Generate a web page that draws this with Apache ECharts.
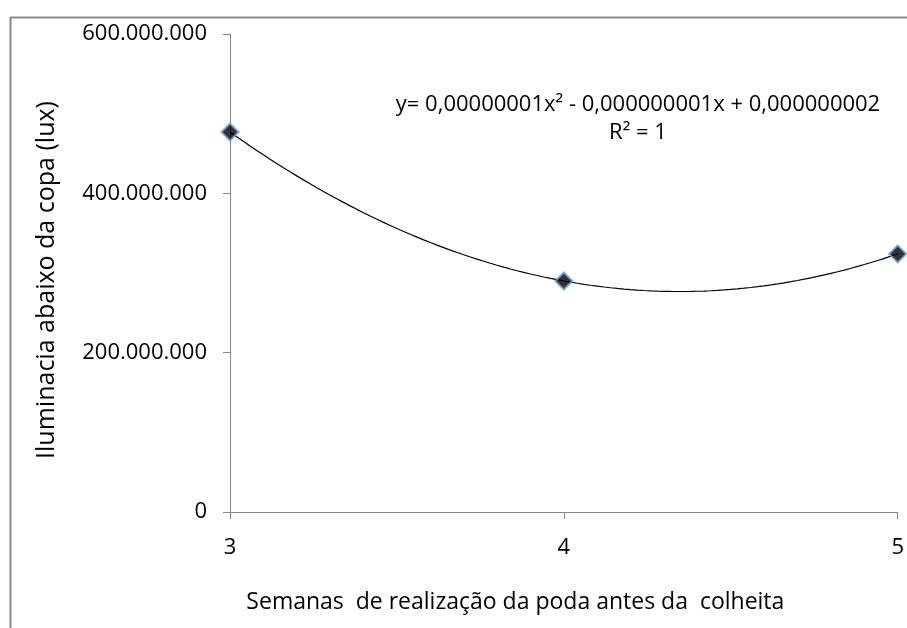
<!DOCTYPE html>
<html>
<head>
<meta charset="utf-8">
<script src="https://cdn.jsdelivr.net/npm/echarts@6/dist/echarts.min.js"></script>
<style>
  html, body { margin: 0; padding: 0; background: #fff; }
  #chart { width: 907px; height: 628px; }
</style>
</head>
<body>
<div id="chart"></div>
<script>
// Weeks of pruning before harvest vs. light under the canopy (lux)
const semanas = [3, 4, 5];
const iluminacao = [477000000, 290000000, 324000000];
const yTicks = [0, 200000000, 400000000, 600000000];
const equacao = 'y= 0,00000001x² - 0,000000001x + 0,000000002';
const r2 = 'R² = 1';

// Second-order polynomial trend line (least squares) from the observed points
function polyFit2(xs, ys) {
  const n = xs.length;
  let s = [0, 0, 0, 0, 0], t = [0, 0, 0];
  for (let i = 0; i < n; i++) {
    let p = 1;
    for (let k = 0; k <= 4; k++) { s[k] += p; if (k <= 2) t[k] += p * ys[i]; p *= xs[i]; }
  }
  const M = [[s[0], s[1], s[2], t[0]], [s[1], s[2], s[3], t[1]], [s[2], s[3], s[4], t[2]]];
  for (let c = 0; c < 3; c++) {
    for (let r = c + 1; r < 3; r++) {
      const f = M[r][c] / M[c][c];
      for (let k = c; k < 4; k++) M[r][k] -= f * M[c][k];
    }
  }
  const coef = [0, 0, 0];
  for (let r = 2; r >= 0; r--) {
    let v = M[r][3];
    for (let k = r + 1; k < 3; k++) v -= M[r][k] * coef[k];
    coef[r] = v / M[r][r];
  }
  return coef; // c0 + c1 x + c2 x^2
}
const coef = polyFit2(semanas, iluminacao);
const tendencia = [];
const x0 = semanas[0], x1 = semanas[semanas.length - 1];
for (let i = 0; i <= 100; i++) {
  const x = x0 + (x1 - x0) * i / 100;
  tendencia.push([x, coef[0] + coef[1] * x + coef[2] * x * x]);
}

function fmtThousands(v) {
  return String(Math.round(v)).replace(/\B(?=(\d{3})+(?!\d))/g, '.');
}

const font = '"Open Sans", "Noto Sans", sans-serif';
const chart = echarts.init(document.getElementById('chart'), null, { renderer: 'canvas' });
chart.setOption({
  animation: false,
  backgroundColor: '#ffffff',
  grid: { left: 230, right: 8, top: 34, bottom: 116 },
  xAxis: {
    type: 'value', min: 3, max: 5, interval: 1,
    axisLine: { lineStyle: { color: '#868686', width: 1 } },
    axisTick: { show: true, length: 7, lineStyle: { color: '#868686' } },
    axisLabel: { color: '#000', fontFamily: font, fontSize: 22, margin: 25 },
    splitLine: { show: false },
    name: 'Semanas  de realização da poda antes da  colheita',
    nameLocation: 'middle', nameGap: 79,
    nameTextStyle: { color: '#000', fontFamily: font, fontSize: 23, padding: [0, 97, 0, 0] }
  },
  yAxis: {
    type: 'value', min: 0, max: 600000000, interval: 200000000,
    axisLine: { show: true, lineStyle: { color: '#868686', width: 1 } },
    axisTick: { show: true, length: 7, lineStyle: { color: '#868686' } },
    axisLabel: { color: '#000', fontFamily: font, fontSize: 22, margin: 23,
      formatter: v => yTicks.includes(v) ? fmtThousands(v) : '' },
    splitLine: { show: false },
    name: 'Iluminacia abaixo da copa (lux)',
    nameLocation: 'middle', nameGap: 171, nameRotate: 90,
    nameTextStyle: { color: '#000', fontFamily: font, fontSize: 25, padding: [0, 14, 0, 0] }
  },
  series: [
    {
      type: 'line', data: tendencia, showSymbol: false, symbol: 'none',
      lineStyle: { color: '#000', width: 1.2 }, z: 2, silent: true
    },
    {
      type: 'scatter', data: semanas.map((x, i) => [x, iluminacao[i]]),
      symbol: 'diamond', symbolSize: 17,
      itemStyle: { color: '#000', borderColor: '#6f9fd8', borderWidth: 2 },
      z: 3
    }
  ],
  graphic: [
    { type: 'line', shape: { x1: 10, y1: 17.5, x2: 907, y2: 17.5 }, style: { stroke: '#8a8a8a', lineWidth: 2 } },
    { type: 'line', shape: { x1: 10.5, y1: 17, x2: 10.5, y2: 628 }, style: { stroke: '#8a8a8a', lineWidth: 2 } },
    { type: 'text', x: 638, y: 105, style: { text: equacao, fill: '#000', font: '22px ' + font, textAlign: 'center', textVerticalAlign: 'middle' } },
    { type: 'text', x: 638, y: 133, style: { text: r2, fill: '#000', font: '22px ' + font, textAlign: 'center', textVerticalAlign: 'middle' } }
  ]
});
</script>
</body>
</html>
